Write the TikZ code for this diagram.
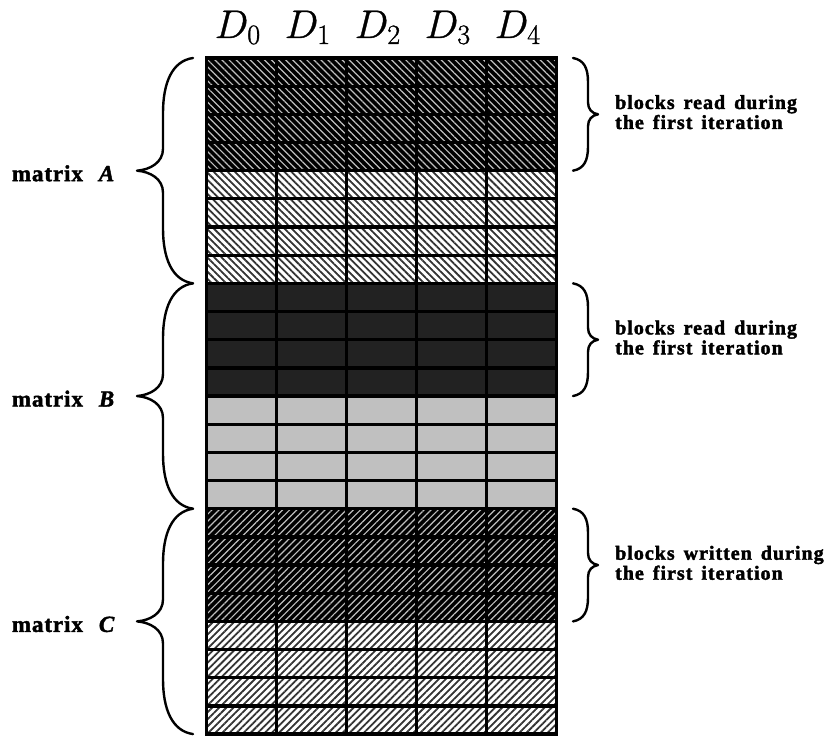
\documentclass[tikz,border=0pt]{standalone}
\usepackage{fix-cm}
\usepackage{fontspec}
\setmainfont{Liberation Serif}
\usetikzlibrary{patterns.meta}
\newcommand\heavytext[2]{\special{pdf:literal direct 2 Tr #1 w}#2\special{pdf:literal direct 0 Tr}}
\tikzset{
  adark/.style={preaction={fill=black}, pattern={Lines[angle=-45,distance=5pt,line width=1.2pt]}, pattern color=white!75!black},
  alight/.style={preaction={fill=white}, pattern={Lines[angle=-45,distance=5pt,line width=1.8pt]}, pattern color=black!80},
  bdark/.style={fill={rgb,255:red,34;green,34;blue,34}},
  blight/.style={fill={rgb,255:red,192;green,192;blue,192}},
  cdark/.style={preaction={fill=black}, pattern={Lines[angle=45,distance=5pt,line width=1.2pt]}, pattern color=white!75!black},
  clight/.style={preaction={fill=white}, pattern={Lines[angle=45,distance=5pt,line width=1.8pt]}, pattern color=black!80},
  gridline/.style={line width=3.3pt, line cap=rect},
  bracepath/.style={line width=2.4pt, line cap=round, line join=round},
  leftlab/.style={anchor=base west, inner sep=0pt, font=\fontsize{23}{27}\selectfont\bfseries\addfontfeature{LetterSpace=4}},
  rightlab/.style={anchor=base west, inner sep=0pt, font=\fontsize{20}{24}\selectfont\bfseries\addfontfeature{LetterSpace=5}},
  head/.style={anchor=base, inner sep=0pt, font=\fontsize{40}{48}\selectfont}
}
\begin{document}
\begin{tikzpicture}[x=1pt,y=1pt]
\useasboundingbox (0,0) rectangle (830,736);
\def\X{206.7}
\def\W{70}
\def\T{678}
\def\H{28.17}
% row fills
\foreach \s [count=\g from 0] in {adark,alight,bdark,blight,cdark,clight} {
  \foreach \k in {0,...,3} {
    \pgfmathsetmacro\yt{\T-(\g*4+\k)*\H}
    \pgfmathsetmacro\yb{\T-(\g*4+\k+1)*\H}
    \path[\s] (\X,\yt) rectangle (\X+5*\W,\yb);
  }
}
% grid
\foreach \r in {0,...,24} {
  \draw[gridline] (\X,\T-\r*\H) -- (\X+5*\W,\T-\r*\H);
}
\foreach \c in {0,...,5} {
  \draw[gridline] (\X+\c*\W,\T) -- (\X+\c*\W,\T-24*\H);
}
% headers
\foreach \c in {0,...,4} {
  \node[head] (h\c) at (\X+\c*\W+35-4,698) {\heavytext{0.35}{$D_{\c}$}};
}
% left braces and labels
\foreach \lab [count=\i from 0] in {A,B,C} {
  \pgfmathsetmacro\yt{\T-\i*8*\H}
  \pgfmathsetmacro\yb{\T-(\i+1)*8*\H}
  \pgfmathsetmacro\ym{(\yt+\yb)/2}
  \draw[bracepath] (193,\yt) .. controls (172,\yt-3) and (163,\yt-25) .. (163,\yt-55)
     -- (163,\ym+22) .. controls (163,\ym+8) and (150,\ym+1) .. (137,\ym)
     .. controls (150,\ym-1) and (163,\ym-8) .. (163,\ym-22)
     -- (163,\yb+55) .. controls (163,\yb+25) and (172,\yb+3) .. (193,\yb);
  \node[leftlab] (m\lab) at (11.7,\ym-10.5) {\heavytext{0.4}{matrix\hspace{16pt}\textit{\lab}}};
}
% right braces and labels
\foreach \txt [count=\i from 0] in {read,read,written} {
  \pgfmathsetmacro\yt{\T-\i*8*\H}
  \pgfmathsetmacro\yb{\yt-4*\H}
  \pgfmathsetmacro\ym{(\yt+\yb)/2}
  \draw[bracepath] (573,\yt) .. controls (584,\yt-2) and (588,\yt-10) .. (588,\yt-24)
     -- (588,\ym+12) .. controls (588,\ym+5) and (592,\ym+1) .. (598,\ym)
     .. controls (592,\ym-1) and (588,\ym-5) .. (588,\ym-12)
     -- (588,\yb+24) .. controls (588,\yb+10) and (584,\yb+2) .. (573,\yb);
  \node[rightlab] (r\i a) at (615,\yt-51) {\heavytext{0.4}{blocks\hspace{9pt}\txt\hspace{9pt}during}};
  \node[rightlab] (r\i b) at (615,\yt-71) {\heavytext{0.4}{the\hspace{9pt}first\hspace{9pt}iteration}};
}
\end{tikzpicture}
\end{document}
